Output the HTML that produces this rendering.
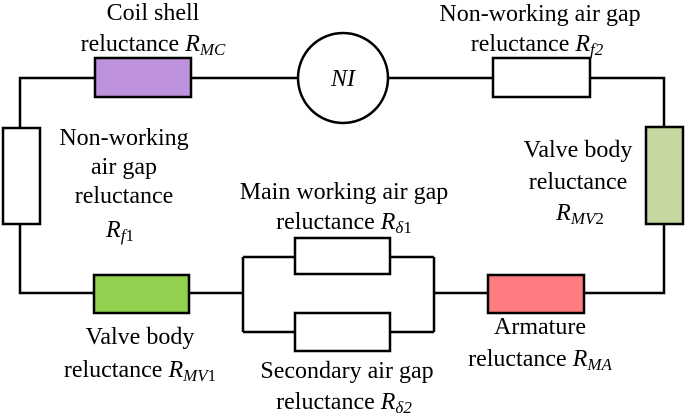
<!DOCTYPE html>
<html><head><meta charset="utf-8"><style>
html,body{margin:0;padding:0;background:#fff;}
svg{display:block;}
text{font-family:"Liberation Serif",serif;font-size:24px;fill:#000;}
.i{font-style:italic;}
.s{font-size:17px;font-style:italic;}
.n{font-size:17px;}
</style></head><body>
<svg width="685" height="414" viewBox="0 0 685 414" xmlns="http://www.w3.org/2000/svg">
<g stroke="#000" stroke-width="2.5" fill="none">
<polyline points="20,128 20,78 95,78"/>
<line x1="191" y1="78" x2="298" y2="78"/>
<line x1="388" y1="78" x2="493" y2="78"/>
<polyline points="590,78 664,78 664,127"/>
<polyline points="664,224 664,293 584,293"/>
<line x1="488" y1="293" x2="434" y2="293"/>
<polyline points="434,257 434,332"/>
<polyline points="390,257 434,257"/>
<polyline points="390,332 434,332"/>
<polyline points="243,257 243,332"/>
<line x1="243" y1="257" x2="295" y2="257"/>
<line x1="243" y1="332" x2="295" y2="332"/>
<line x1="189" y1="293" x2="243" y2="293"/>
<polyline points="94,293 20,293 20,224"/>
</g>
<g stroke="#000" stroke-width="2.5">
<rect x="95" y="58" width="96" height="39" fill="#bf92dd"/>
<circle cx="343" cy="78" r="45" fill="#fff"/>
<rect x="493" y="58" width="97" height="39" fill="#fff"/>
<rect x="646" y="127" width="37" height="97" fill="#c5d8a0"/>
<rect x="3" y="128" width="37" height="96" fill="#fff"/>
<rect x="94" y="275" width="95" height="38" fill="#92d050"/>
<rect x="295" y="238" width="95" height="36" fill="#fff"/>
<rect x="295" y="313" width="95" height="38" fill="#fff"/>
<rect x="488" y="275" width="96" height="38" fill="#ff7c80"/>
</g>
<text x="343" y="86" text-anchor="middle" class="i">NI</text>
<text x="153" y="20" text-anchor="middle">Coil shell</text>
<text x="153" y="51" text-anchor="middle">reluctance <tspan class="i">R</tspan><tspan class="s" dy="4">MC</tspan></text>
<text x="540" y="21" text-anchor="middle">Non-working air gap</text>
<text x="537" y="51" text-anchor="middle">reluctance <tspan class="i">R</tspan><tspan class="s" dy="4">f2</tspan></text>
<text x="124" y="145" text-anchor="middle">Non-working</text>
<text x="124" y="174" text-anchor="middle">air gap</text>
<text x="124" y="203" text-anchor="middle">reluctance</text>
<text x="120" y="237" text-anchor="middle"><tspan class="i">R</tspan><tspan class="s" dy="4">f</tspan><tspan class="n">1</tspan></text>
<text x="344" y="199" text-anchor="middle">Main working air gap</text>
<text x="344" y="229" text-anchor="middle">reluctance <tspan class="i">R</tspan><tspan class="s" dy="4">δ</tspan><tspan class="n">1</tspan></text>
<text x="578" y="157" text-anchor="middle">Valve body</text>
<text x="578" y="189" text-anchor="middle">reluctance</text>
<text x="580" y="220" text-anchor="middle"><tspan class="i">R</tspan><tspan class="s" dy="4">MV</tspan><tspan class="n">2</tspan></text>
<text x="140" y="344" text-anchor="middle">Valve body</text>
<text x="140" y="377" text-anchor="middle">reluctance <tspan class="i">R</tspan><tspan class="s" dy="4">MV</tspan><tspan class="n">1</tspan></text>
<text x="347" y="378" text-anchor="middle">Secondary air gap</text>
<text x="344" y="409" text-anchor="middle">reluctance <tspan class="i">R</tspan><tspan class="s" dy="4">δ2</tspan></text>
<text x="540" y="334" text-anchor="middle">Armature</text>
<text x="540" y="366" text-anchor="middle">reluctance <tspan class="i">R</tspan><tspan class="s" dy="4">MA</tspan></text>
</svg>
</body></html>
